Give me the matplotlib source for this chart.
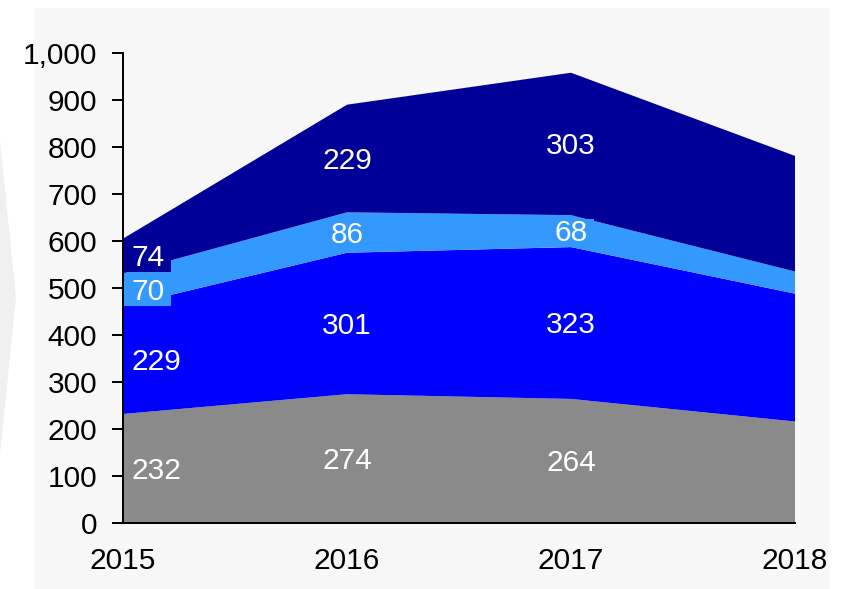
import matplotlib
matplotlib.use("Agg")
import matplotlib.pyplot as plt
from matplotlib.patches import Rectangle, Polygon
from matplotlib.path import Path
from matplotlib.ticker import FuncFormatter, MultipleLocator

years = ["2015", "2016", "2017", "2018"]
series_gray = [232, 274, 264, 216]
series_blue = [229, 301, 323, 272]
series_lightblue = [70, 86, 68, 47]
series_navy = [74, 229, 303, 246]
labeled_points = 3  # values shown as labels for the first three years

colors = ["#8a8a8a", "#0000ff", "#3399ff", "#000099"]

plt.rcParams["font.family"] = ["Liberation Sans", "DejaVu Sans"]

W, H, DPI = 852, 589, 100
FS = 21.5
fig = plt.figure(figsize=(W / DPI, H / DPI), dpi=DPI, facecolor="white")

# light grey panel and decorative chevron
fig.add_artist(Rectangle((35 / W, 0), (829 - 35) / W, (589 - 8) / H,
                         transform=fig.transFigure, facecolor="#f7f7f7",
                         edgecolor="none", zorder=-2))
fig.add_artist(Polygon([(0, 1 - 140 / H), (16 / W, 1 - 298 / H), (0, 1 - 455 / H)],
                       closed=True, transform=fig.transFigure,
                       facecolor="#f0f0f0", edgecolor="none", zorder=-2))

ax = fig.add_axes([123 / W, (H - 523) / H, (795 - 123) / W, (523 - 53) / H])
ax.set_facecolor("none")

x = list(range(len(years)))
series = [series_gray, series_blue, series_lightblue, series_navy]
ax.stackplot(x, *series, colors=colors, linewidth=0, antialiased=True)

ax.set_xlim(0, len(years) - 1)
ax.set_ylim(0, 1000)
ax.yaxis.set_major_locator(MultipleLocator(100))
ax.yaxis.set_major_formatter(FuncFormatter(lambda v, p: f"{int(v):,}"))
ax.set_xticks(x)
ax.set_xticklabels(years)

for s in ["top", "right"]:
    ax.spines[s].set_visible(False)
for s in ["left", "bottom"]:
    ax.spines[s].set_color("black")
    ax.spines[s].set_linewidth(1.4)

ax.tick_params(axis="y", direction="out", length=8, width=1.4, pad=10.5,
               labelsize=FS, colors="black")
ax.tick_params(axis="x", length=0, pad=17, labelsize=FS, colors="black")


def wide_box(x0, y0, width, height, mutation_size):
    padx = 0.21 * mutation_size
    pady = 0.0 * mutation_size
    xa, xb = x0 - padx, x0 + width + padx
    ya, yb = y0 - pady, y0 + height + pady
    return Path([(xa, ya), (xb, ya), (xb, yb), (xa, yb), (xa, ya)], closed=True)


for i in range(labeled_points):
    base = 0
    for vals, col in zip(series, colors):
        v = vals[i]
        mid = base + v / 2
        base += v
        if i == 0:
            off, ha = (6, -1.5), "left"
        else:
            off, ha = (0, -1.5), "center"
        ax.annotate(str(v), (x[i], mid), xytext=off,
                    textcoords="offset points", ha=ha, va="center",
                    color="white", fontsize=FS,
                    bbox=dict(boxstyle=wide_box, facecolor=col,
                              edgecolor="none"))

fig.savefig("out.png", dpi=DPI, facecolor="white")
